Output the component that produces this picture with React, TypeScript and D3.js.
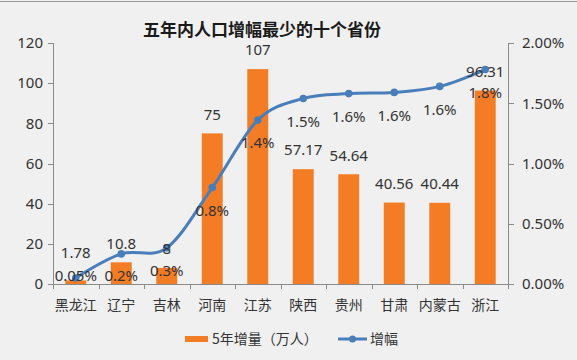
import React from "react";
import * as d3 from "d3";

const title = "五年内人口增幅最少的十个省份";
const categories = ["黑龙江", "辽宁", "吉林", "河南", "江苏", "陕西", "贵州", "甘肃", "内蒙古", "浙江"];
const increase = [1.78, 10.8, 8, 75, 107, 57.17, 54.64, 40.56, 40.44, 96.31];
const growth = [0.0005, 0.0025, 0.003, 0.008, 0.0136, 0.0154, 0.0158, 0.0159, 0.0164, 0.0178];
const growthLabels = ["0.05%", "0.2%", "0.3%", "0.8%", "1.4%", "1.5%", "1.6%", "1.6%", "1.6%", "1.8%"];
const leftTicks = [0, 20, 40, 60, 80, 100, 120];
const rightTicks = [0, 0.005, 0.01, 0.015, 0.02];
const seriesNames = ["5年增量（万人）", "增幅"];

const W = 577;
const H = 360;
const BAR = "#f47c25";
const LINE = "#4a7ebb";
const AXIS = "#8a8a8a";
const TEXT = "#333333";
const FONT = "'Noto Sans', 'Noto Sans CJK SC', sans-serif";
const CJK = "'Noto Sans CJK SC', sans-serif";

export default function App() {
  const left = 53, right = 508, top = 43, bottom = 284;
  const x = d3.scaleBand<string>().domain(categories).range([left, right]).paddingInner(0.54).paddingOuter(0.27);
  const yL = d3.scaleLinear().domain([0, 120]).range([bottom, top]);
  const yR = d3.scaleLinear().domain([0, 0.02]).range([bottom, top]);
  const cx = (c: string) => (x(c) as number) + x.bandwidth() / 2;
  const step = x.step();

  const pts: [number, number][] = categories.map((c, i) => [cx(c), yR(growth[i])]);
  const line = d3.line().curve(d3.curveCardinal.tension(0))(pts) || "";

  const pctY = pts.map(p => Math.min(p[1] + 23, bottom - 8));
  const barLabelY = categories.map((c, i) => {
    const yb = yL(increase[i]) - 19;
    const d = pctY[i] - yb;
    return d > 0 && d < 18 ? pctY[i] - 23 : yb;
  });

  const fmtR = d3.format(".2%");

  return (
    <svg width={W} height={H} style={{ position: "absolute", left: 0, top: 0, display: "block" }} fontFamily={FONT}>
      <rect x={0} y={0} width={W} height={H} fill="#f0f0f0" />
      <line x1={0} x2={W} y1={1.5} y2={1.5} stroke="#9a9a9a" strokeWidth={1} />
      <text x={262} y={36} textAnchor="middle" fontSize={17} fontWeight="bold" fill="#1a1a1a" fontFamily={CJK}>{title}</text>

      {/* axes */}
      <line x1={left + 0.5} x2={left + 0.5} y1={top} y2={bottom} stroke={AXIS} />
      <line x1={right + 0.5} x2={right + 0.5} y1={top} y2={bottom} stroke={AXIS} />
      <line x1={left} x2={right + 1} y1={bottom + 0.5} y2={bottom + 0.5} stroke={AXIS} />
      {leftTicks.map(t => (
        <g key={"l" + t}>
          <line x1={left - 5} x2={left} y1={Math.round(yL(t)) + 0.5} y2={Math.round(yL(t)) + 0.5} stroke={AXIS} />
          <text x={43} y={yL(t)} dy="0.35em" textAnchor="end" fontSize={15} fill={TEXT}>{t}</text>
        </g>
      ))}
      {rightTicks.map(t => (
        <g key={"r" + t}>
          <line x1={right} x2={right + 6} y1={Math.round(yR(t)) + 0.5} y2={Math.round(yR(t)) + 0.5} stroke={AXIS} />
          <text x={522} y={yR(t)} dy="0.35em" textAnchor="start" fontSize={15} fill={TEXT}>{fmtR(t)}</text>
        </g>
      ))}
      {categories.map((c, i) => (
        <line key={"xt" + c} x1={Math.round(left + i * step) + 0.5} x2={Math.round(left + i * step) + 0.5} y1={bottom} y2={bottom + 5} stroke={AXIS} />
      ))}
      <line x1={right + 0.5} x2={right + 0.5} y1={bottom} y2={bottom + 5} stroke={AXIS} />
      {categories.map(c => (
        <text key={"xl" + c} x={cx(c)} y={310} textAnchor="middle" fontSize={14} fill={TEXT} fontFamily={CJK}>{c}</text>
      ))}

      {/* bars */}
      {categories.map((c, i) => (
        <rect key={"b" + c} x={x(c)} y={yL(increase[i])} width={x.bandwidth()} height={bottom - yL(increase[i])} fill={BAR} />
      ))}

      {/* line */}
      <path d={line} fill="none" stroke={LINE} strokeWidth={3} strokeLinecap="round" />
      {pts.map((p, i) => (
        <circle key={"p" + i} cx={p[0]} cy={p[1]} r={3.8} fill={LINE} />
      ))}

      {/* labels */}
      {categories.map((c, i) => (
        <text key={"bl" + c} x={cx(c)} y={barLabelY[i]} dy="0.35em" textAnchor="middle" fontSize={15} fill={TEXT}>{String(increase[i])}</text>
      ))}
      {categories.map((c, i) => (
        <text key={"pl" + c} x={cx(c)} y={pctY[i]} dy="0.35em" textAnchor="middle" fontSize={15} fill={TEXT}>{growthLabels[i]}</text>
      ))}

      {/* legend */}
      <rect x={185} y={336} width={23} height={6} fill={BAR} />
      <text x={212} y={339} dy="0.35em" fontSize={14} fill={TEXT} fontFamily={CJK}>{seriesNames[0]}</text>
      <line x1={338} x2={367} y1={339} y2={339} stroke={LINE} strokeWidth={3} />
      <circle cx={352.5} cy={339} r={3.5} fill={LINE} />
      <text x={370} y={339} dy="0.35em" fontSize={14} fill={TEXT} fontFamily={CJK}>{seriesNames[1]}</text>
    </svg>
  );
}
